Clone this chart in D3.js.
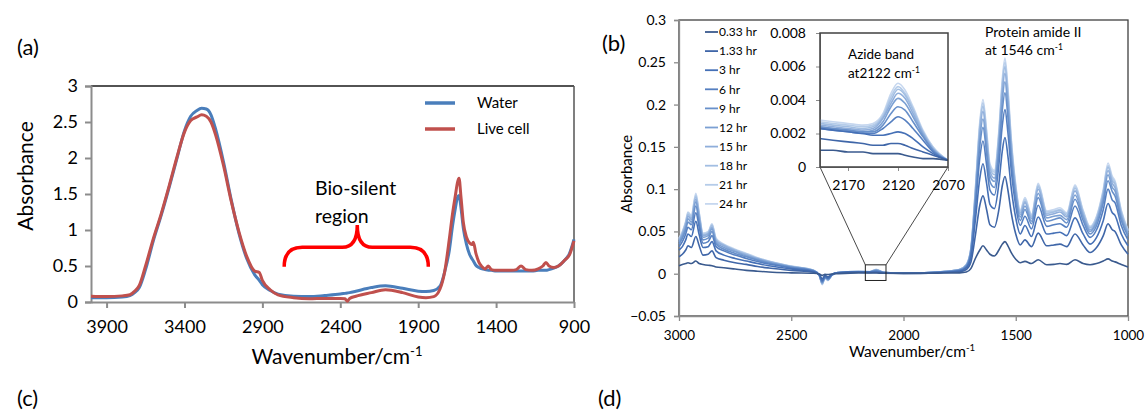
<!DOCTYPE html>
<html>
<head>
<meta charset="utf-8">
<script src="https://cdnjs.cloudflare.com/ajax/libs/d3/7.8.5/d3.min.js"></script>
<style>
  body { margin: 0; background: #fff; }
  svg text { font-family: Lato, "Open Sans", sans-serif; fill: #000; }
</style>
</head>
<body>
<div id="chart"></div>
<script>
/* ------------------------------ Data: panel (a) water vs live cell ------------------------------ */
var wnA = [4000, 3900, 3800, 3750, 3720, 3690, 3650, 3600, 3550, 3500,
           3450, 3400, 3360, 3320, 3290, 3260, 3230, 3200, 3150, 3100,
           3050, 3000, 2950, 2920, 2900, 2850, 2800, 2700, 2600, 2500,
           2400, 2370, 2355, 2340, 2300, 2200, 2110, 2000, 1900, 1850,
           1800, 1760, 1730, 1700, 1680, 1660, 1648, 1638, 1625, 1610,
           1590, 1570, 1555, 1546, 1530, 1510, 1490, 1470, 1450, 1430,
           1400, 1340, 1300, 1270, 1240, 1210, 1170, 1130, 1100, 1080,
           1060, 1030, 1000, 960, 930, 900];
var water = [0.06, 0.06, 0.07, 0.09, 0.13, 0.2, 0.45, 0.85, 1.2, 1.58,
             1.98, 2.38, 2.58, 2.66, 2.69, 2.68, 2.6, 2.4, 1.95, 1.42,
             0.95, 0.6, 0.38, 0.3, 0.24, 0.16, 0.11, 0.08, 0.075, 0.09,
             0.11, 0.12, 0.125, 0.13, 0.15, 0.2, 0.225, 0.19, 0.15, 0.145,
             0.16, 0.22, 0.42, 0.72, 1.05, 1.32, 1.45, 1.48, 1.3, 1.02,
             0.8, 0.66, 0.6, 0.57, 0.51, 0.48, 0.46, 0.45, 0.44, 0.44,
             0.43, 0.43, 0.43, 0.43, 0.43, 0.43, 0.43, 0.44, 0.44, 0.44,
             0.45, 0.47, 0.5, 0.58, 0.67, 0.87];
var liveCell = [0.08, 0.075, 0.085, 0.1, 0.15, 0.23, 0.5, 0.88, 1.22, 1.6,
                2.0, 2.36, 2.52, 2.57, 2.6, 2.58, 2.5, 2.32, 1.9, 1.4,
                0.97, 0.63, 0.43, 0.41, 0.3, 0.17, 0.1, 0.06, 0.045, 0.05,
                0.05, 0.045, 0.01, 0.05, 0.08, 0.13, 0.17, 0.13, 0.07, 0.06,
                0.075, 0.18, 0.42, 0.88, 1.22, 1.5, 1.66, 1.72, 1.45, 1.1,
                0.9, 0.82, 0.8, 0.83, 0.68, 0.55, 0.49, 0.46, 0.5, 0.45,
                0.44, 0.44, 0.44, 0.45, 0.5, 0.45, 0.44, 0.46, 0.5, 0.55,
                0.5, 0.48, 0.5, 0.58, 0.65, 0.85];
var legendA = ["Water", "Live cell"];
var xTicksA = [3900, 3400, 2900, 2400, 1900, 1400, 900];
var yTicksA = [0, 0.5, 1, 1.5, 2, 2.5, 3];

/* ------------------------------ Data: panel (b) time series ------------------------------ */
var timeLabels = ["0.33 hr", "1.33 hr", "3 hr", "6 hr", "9 hr", "12 hr", "15 hr", "18 hr", "21 hr", "24 hr"];
var wnB = [3000, 2985, 2970, 2960, 2945, 2925, 2910, 2893, 2870, 2853,
           2835, 2800, 2750, 2700, 2650, 2600, 2500, 2400, 2375, 2362,
           2350, 2336, 2320, 2300, 2200, 2150, 2122, 2090, 2000, 1850,
           1750, 1720, 1700, 1680, 1660, 1646, 1630, 1615, 1595, 1575,
           1560, 1548, 1535, 1520, 1500, 1480, 1459, 1430, 1400, 1362,
           1330, 1303, 1273, 1236, 1200, 1169, 1140, 1110, 1089, 1070,
           1058, 1030, 1000];
var hr033 = [.0095,.011,.012,.013,.012,.015,.012,.011,.010,.0095,
             .008,.007,.0055,.004,.003,.002,.001,.0005,-.0003,-.002,
             -.0008,-.001,-.0003,0,.001,.0009,.0008,.0006,.0004,.0007,
             .001,.002,.006,.018,.028,.033,.028,.023,.021,.028,
             .035,.038,.033,.025,.017,.013,.0146,.012,.0165,.0106,
             .011,.012,.011,.0165,.012,.0106,.012,.015,.0175,.015,
             .014,.011,.008];
var hr133 = [.020,.023,.028,.033,.031,.044,.033,.022,.023,.027,
             .019,.016,.013,.011,.0086,.0068,.004,.0018,-.0009,-.006,
             -.002,-.0036,-.0009,.0006,.0017,.0013,.0014,.0009,.0004,.001,
             .0023,.005,.0135,.045,.081,.092,.076,.058,.055,.076,
             .104,.115,.099,.072,.047,.034,.040,.032,.048,.033,
             .034,.035,.032,.047,.034,.025,.031,.045,.059,.052,
             .050,.034,.023];
var hr3 = [.028,.032,.040,.047,.044,.062,.046,.031,.032,.038,
           .027,.022,.018,.015,.012,.0095,.0057,.0025,-.0013,-.008,
           -.003,-.005,-.0013,.0008,.0023,.0019,.0021,.0012,.0005,.0013,
           .0032,.007,.019,.063,.113,.130,.107,.082,.077,.107,
           .145,.161,.139,.101,.066,.047,.057,.044,.067,.047,
           .048,.049,.045,.066,.047,.035,.043,.063,.083,.072,
           .069,.047,.033];
var hr6 = [.032,.038,.047,.055,.052,.072,.055,.036,.038,.045,
           .032,.027,.022,.018,.0144,.0114,.0068,.003,-.0015,-.009,
           -.004,-.006,-.0015,.001,.0023,.0021,.003,.0013,.0005,.0015,
           .0038,.008,.023,.076,.137,.157,.129,.099,.093,.129,
           .175,.194,.167,.122,.080,.057,.068,.053,.081,.056,
           .058,.059,.055,.080,.057,.043,.052,.076,.100,.087,
           .084,.057,.040];
var hr9 = [.035,.042,.052,.061,.058,.080,.060,.040,.042,.050,
           .035,.029,.024,.020,.016,.0126,.0076,.0034,-.002,-.010,
           -.004,-.006,-.002,.001,.0024,.0021,.0036,.0014,.0005,.0017,
           .0042,.009,.025,.084,.151,.173,.143,.109,.102,.143,
           .193,.214,.185,.134,.088,.063,.076,.059,.090,.062,
           .064,.066,.060,.088,.063,.047,.057,.084,.110,.097,
           .092,.063,.044];
var hr12 = [.037,.045,.055,.065,.061,.085,.064,.043,.045,.053,
            .037,.031,.026,.021,.017,.0134,.008,.0036,-.002,-.011,
            -.004,-.007,-.002,.001,.0024,.0022,.0041,.0015,.0005,.002,
            .0045,.010,.027,.089,.160,.183,.151,.116,.109,.151,
            .205,.227,.196,.142,.093,.067,.080,.062,.095,.066,
            .068,.069,.064,.093,.067,.050,.061,.089,.117,.102,
            .098,.067,.046];
var hr15 = [.039,.047,.058,.068,.064,.088,.067,.045,.047,.055,
            .039,.033,.027,.022,.018,.014,.0084,.0037,-.002,-.011,
            -.005,-.007,-.002,.001,.0025,.0022,.0044,.0016,.0005,.002,
            .005,.010,.028,.093,.167,.192,.158,.121,.113,.158,
            .214,.237,.205,.149,.098,.070,.084,.065,.100,.069,
            .071,.073,.067,.098,.070,.052,.063,.093,.122,.107,
            .102,.070,.048];
var hr18 = [.040,.048,.060,.070,.066,.091,.069,.046,.048,.057,
            .040,.034,.028,.023,.018,.0144,.0086,.0038,-.002,-.012,
            -.005,-.007,-.002,.001,.0026,.0023,.0046,.0017,.0005,.002,
            .005,.010,.029,.096,.173,.198,.163,.125,.117,.163,
            .221,.245,.211,.154,.101,.072,.086,.067,.103,.071,
            .073,.075,.069,.101,.072,.054,.065,.096,.126,.110,
            .106,.072,.050];
var hr21 = [.041,.049,.061,.072,.068,.093,.071,.047,.049,.058,
            .041,.034,.028,.0235,.0185,.0147,.0088,.0039,-.002,-.012,
            -.005,-.008,-.002,.001,.0027,.0024,.0048,.0017,.0005,.002,
            .005,.011,.029,.098,.176,.202,.167,.127,.120,.167,
            .225,.250,.216,.157,.103,.074,.088,.069,.105,.073,
            .074,.076,.071,.103,.074,.055,.067,.098,.128,.113,
            .108,.074,.051];
var hr24 = [.042,.050,.062,.073,.069,.095,.072,.048,.050,.059,
            .042,.035,.029,.024,.019,.015,.009,.004,-.002,-.013,
            -.005,-.008,-.002,.001,.0028,.0025,.005,.0018,.0005,.002,
            .005,.011,.030,.100,.180,.206,.170,.130,.122,.170,
            .230,.255,.220,.160,.105,.075,.090,.070,.107,.074,
            .076,.078,.072,.105,.075,.056,.068,.100,.131,.115,
            .110,.075,.052];
var xTicksB = [3000, 2500, 2000, 1500, 1000];
var yTicksB = [-0.05, 0, 0.05, 0.1, 0.15, 0.2, 0.25, 0.3];

// inset: azide band
var wnIn = [2198, 2185, 2170, 2155, 2145, 2135, 2127, 2120, 2113, 2105, 2095, 2085, 2070];
var in033 = [.0010,.0010,.0009,.0009,.0008,.0008,.0008,.0008,.0007,.0006,.0005,.0005,.0004];
var in133 = [.0017,.0016,.0015,.0014,.0013,.0013,.0014,.0014,.0013,.0011,.0009,.0007,.0004];
var in3   = [.0023,.0022,.0021,.0020,.0019,.0019,.0020,.0021,.0020,.0017,.0012,.0008,.0004];
var in6   = [.0023,.0022,.0021,.0020,.0020,.0023,.0027,.0030,.0028,.0023,.0016,.0009,.0004];
var in9   = [.0024,.0023,.0022,.0021,.0021,.0025,.0032,.0036,.0034,.0027,.0018,.0010,.0004];
var in12  = [.0024,.0023,.0022,.0021,.0022,.0027,.0036,.0041,.0038,.0030,.0019,.0010,.0004];
var in15  = [.0025,.0024,.0023,.0022,.0023,.0029,.0038,.0044,.0041,.0032,.0020,.0011,.0004];
var in18  = [.0026,.0025,.0024,.0023,.0024,.0030,.0040,.00464,.0043,.0034,.0021,.0011,.0004];
var in21  = [.0027,.0026,.0025,.0024,.0025,.0031,.0042,.0048,.0044,.0035,.0021,.0012,.0004];
var in24  = [.0028,.0027,.0026,.0025,.0026,.0032,.0044,.0050,.0046,.0036,.0022,.0012,.0004];
var xTicksIn = [2170, 2120, 2070];
var yTicksIn = [0, 0.002, 0.004, 0.006, 0.008];

var seriesB = [hr033, hr133, hr3, hr6, hr9, hr12, hr15, hr18, hr21, hr24];
var seriesIn = [in033, in133, in3, in6, in9, in12, in15, in18, in21, in24];
var blues = ["#3a5a8e", "#3f66a8", "#4570b6", "#557fc0", "#6890ca", "#7ba0d3", "#8faedb", "#a2bee2", "#b5cce9", "#c6d7ef"];

/* ------------------------------ SVG ------------------------------ */
var svg = d3.select("#chart").append("svg")
  .attr("width", 1148)
  .attr("height", 412);

var axisGrey = "#8c8c8c", frameGrey = "#404040";
var fmtInt = d3.format("d");

function supLabel(sel, size) {
  sel.append("tspan").text("Wavenumber/cm");
  sel.append("tspan").attr("dy", -size * 0.4).attr("font-size", size * 0.62).text("-1");
}

/* ------------------------------ Panel (a) ------------------------------ */
var xA = d3.scaleLinear().domain([4000, 900]).range([91, 574]);
var yA = d3.scaleLinear().domain([0, 3]).range([302, 86]);

var gA = svg.append("g");

// frame: top and right dark, left and bottom grey axes
gA.append("line").attr("x1", 91).attr("x2", 574).attr("y1", 86).attr("y2", 86).attr("stroke", "#1a1a1a").attr("stroke-width", 1.5);
gA.append("line").attr("x1", 574).attr("x2", 574).attr("y1", 86).attr("y2", 302).attr("stroke", "#555").attr("stroke-width", 1.5);

var yAxisA = d3.axisLeft(yA).tickValues(yTicksA).tickSize(6).tickPadding(7).tickFormat(d3.format("~g"));
gA.append("g").attr("transform", "translate(91,0)").call(yAxisA)
  .call(function(g) {
    g.selectAll("path,line").attr("stroke", axisGrey).attr("stroke-width", 2);
    g.selectAll("text").attr("font-size", 18).attr("font-family", "Lato");
  });
var xAxisA = d3.axisBottom(xA).tickValues(xTicksA).tickSize(6).tickPadding(12).tickSizeOuter(0).tickFormat(fmtInt);
gA.append("g").attr("transform", "translate(0,302)").call(xAxisA)
  .call(function(g) {
    g.selectAll("path,line").attr("stroke", axisGrey).attr("stroke-width", 2);
    g.selectAll("text").attr("font-size", 18).attr("font-family", "Lato");
  });

var lineA = d3.line().x(function(d) { return xA(d[0]); }).y(function(d) { return yA(d[1]); }).curve(d3.curveMonotoneX);
gA.append("path").datum(d3.zip(wnA, water)).attr("d", lineA)
  .attr("fill", "none").attr("stroke", "#4a7ebb").attr("stroke-width", 3);
gA.append("path").datum(d3.zip(wnA, liveCell)).attr("d", lineA)
  .attr("fill", "none").attr("stroke", "#c0504d").attr("stroke-width", 3);

// legend
var legA = gA.selectAll(".legA").data(legendA).enter().append("g")
  .attr("transform", function(d, i) { return "translate(425," + (103 + i * 26) + ")"; });
legA.append("line").attr("x1", 0).attr("x2", 30).attr("stroke-width", 3.5)
  .attr("stroke", function(d, i) { return i === 0 ? "#4a7ebb" : "#c0504d"; });
legA.append("text").attr("x", 52).attr("dy", "0.35em").attr("font-size", 15).text(function(d) { return d; });

// bio-silent brace
var bx0 = xA(2760), bx1 = xA(1835), bxm = xA(2291);
var byTip = yA(0.49), byBar = yA(0.76), byTop = yA(1.07);
var brace = d3.path();
brace.moveTo(bx0, byTip);
brace.quadraticCurveTo(bx0, byBar, bx0 + 18, byBar);
brace.lineTo(bxm - 15, byBar);
brace.quadraticCurveTo(bxm, byBar, bxm, byTop);
brace.quadraticCurveTo(bxm, byBar, bxm + 15, byBar);
brace.lineTo(bx1 - 18, byBar);
brace.quadraticCurveTo(bx1, byBar, bx1, byTip);
gA.append("path").attr("d", brace.toString()).attr("fill", "none").attr("stroke", "#ff0000").attr("stroke-width", 3.5);
gA.append("text").attr("x", 315).attr("y", 188).attr("dy", "0.35em").attr("font-size", 19.5).text("Bio-silent");
gA.append("text").attr("x", 315).attr("y", 216).attr("dy", "0.35em").attr("font-size", 19.5).text("region");

gA.append("text").attr("transform", "translate(26,176) rotate(-90)").attr("text-anchor", "middle")
  .attr("dy", "0.35em").attr("font-size", 21).text("Absorbance");
gA.append("text").attr("x", 337).attr("y", 364).attr("text-anchor", "middle").attr("font-size", 21).call(supLabel, 21);

/* ------------------------------ Panel (b) ------------------------------ */
var xB = d3.scaleLinear().domain([3000, 1000]).range([679, 1128]);
var yB = d3.scaleLinear().domain([-0.05, 0.3]).range([316, 20]);
var gB = svg.append("g");

gB.append("rect").attr("x", 679).attr("y", 20).attr("width", 449).attr("height", 296)
  .attr("fill", "none").attr("stroke", frameGrey).attr("stroke-width", 1.3);

var fmtB = function(d) { return d === 0 ? "0" : d3.format("~g")(+d.toFixed(2)); };
gB.append("g").attr("transform", "translate(679,0)")
  .call(d3.axisLeft(yB).tickValues(yTicksB).tickSize(5).tickPadding(8).tickFormat(fmtB))
  .call(function(g) {
    g.selectAll("path,line").attr("stroke", axisGrey).attr("stroke-width", 1.3);
    g.selectAll("text").attr("font-size", 14).attr("font-family", "Lato");
  });
gB.append("g").attr("transform", "translate(0,316)")
  .call(d3.axisBottom(xB).tickValues(xTicksB).tickSize(5).tickPadding(9).tickSizeOuter(0).tickFormat(fmtInt))
  .call(function(g) {
    g.selectAll("path,line").attr("stroke", axisGrey).attr("stroke-width", 1.3);
    g.selectAll("text").attr("font-size", 13.5).attr("font-family", "Lato");
  });

var lineB = d3.line().x(function(d) { return xB(d[0]); }).y(function(d) { return yB(d[1]); }).curve(d3.curveMonotoneX);
for (var i = seriesB.length - 1; i >= 0; i--) {
  gB.append("path").datum(d3.zip(wnB, seriesB[i])).attr("d", lineB)
    .attr("fill", "none").attr("stroke", blues[i]).attr("stroke-width", 1.6);
}

// legend
var legB = gB.selectAll(".legB").data(timeLabels).enter().append("g")
  .attr("transform", function(d, i) { return "translate(705," + (32 + i * 19.1) + ")"; });
legB.append("line").attr("x1", 0).attr("x2", 13).attr("stroke-width", 1.8)
  .attr("stroke", function(d, i) { return blues[i]; });
legB.append("text").attr("x", 14).attr("dy", "0.35em").attr("font-size", 12).attr("fill", "#222")
  .text(function(d) { return d; });

// inset
var xIn = d3.scaleLinear().domain([2198, 2070]).range([820, 948]);
var yIn = d3.scaleLinear().domain([0, 0.008]).range([167, 33]);

// zoom box and connectors
var zx0 = xB(2170), zx1 = xB(2078), zy0 = yB(0.0105), zy1 = yB(-0.008);
gB.append("rect").attr("x", zx0).attr("y", zy0).attr("width", zx1 - zx0).attr("height", zy1 - zy0)
  .attr("fill", "none").attr("stroke", "#222").attr("stroke-width", 1);
gB.append("line").attr("x1", zx0).attr("y1", zy0).attr("x2", xIn(2198)).attr("y2", yIn(0)).attr("stroke", "#333").attr("stroke-width", 0.9);
gB.append("line").attr("x1", zx1).attr("y1", zy0).attr("x2", xIn(2070)).attr("y2", yIn(0)).attr("stroke", "#333").attr("stroke-width", 0.9);

var gIn = gB.append("g");
gIn.append("rect").attr("x", 820).attr("y", 33).attr("width", 128).attr("height", 134).attr("fill", "#fff");
gIn.append("clipPath").attr("id", "clipIn").append("rect").attr("x", 820).attr("y", 33).attr("width", 128).attr("height", 134);
gIn.append("g").attr("transform", "translate(820,0)")
  .call(d3.axisLeft(yIn).tickValues(yTicksIn).tickSize(4).tickPadding(10)
    .tickFormat(function(d) { return d === 0 ? "0" : d.toFixed(3); }))
  .call(function(g) {
    g.selectAll("path,line").attr("stroke", axisGrey);
    g.selectAll("text").attr("font-size", 14).attr("font-family", "Lato");
  });
gIn.append("g").attr("transform", "translate(0,167)")
  .call(d3.axisBottom(xIn).tickValues(xTicksIn).tickSize(4).tickPadding(9).tickSizeOuter(0).tickFormat(fmtInt))
  .call(function(g) {
    g.selectAll("path,line").attr("stroke", axisGrey);
    g.selectAll("text").attr("font-size", 14).attr("font-family", "Lato");
  });
var lineIn = d3.line().x(function(d) { return xIn(d[0]); }).y(function(d) { return yIn(d[1]); }).curve(d3.curveMonotoneX);
var gInLines = gIn.append("g").attr("clip-path", "url(#clipIn)");
for (var j = seriesIn.length - 1; j >= 0; j--) {
  gInLines.append("path").datum(d3.zip(wnIn, seriesIn[j])).attr("d", lineIn)
    .attr("fill", "none").attr("stroke", blues[j]).attr("stroke-width", 1.6);
}
gIn.append("rect").attr("x", 820).attr("y", 33).attr("width", 128).attr("height", 134)
  .attr("fill", "none").attr("stroke", frameGrey).attr("stroke-width", 1.5);

gIn.append("text").attr("x", 848).attr("y", 54).attr("dy", "0.35em").attr("font-size", 13.5).text("Azide band");
var t2 = gIn.append("text").attr("x", 848).attr("y", 73).attr("dy", "0.35em").attr("font-size", 13.5);
t2.append("tspan").text("at2122 cm");
t2.append("tspan").attr("dy", -5).attr("font-size", 8.5).text("-1");

gB.append("text").attr("x", 985).attr("y", 32).attr("dy", "0.35em").attr("font-size", 14).text("Protein amide II");
var t3 = gB.append("text").attr("x", 985).attr("y", 50).attr("dy", "0.35em").attr("font-size", 14);
t3.append("tspan").text("at 1546 cm");
t3.append("tspan").attr("dy", -5).attr("font-size", 8.5).text("-1");

gB.append("text").attr("transform", "translate(627,174) rotate(-90)").attr("text-anchor", "middle")
  .attr("dy", "0.35em").attr("font-size", 15).text("Absorbance");
gB.append("text").attr("x", 912).attr("y", 357).attr("text-anchor", "middle").attr("font-size", 15.5).call(supLabel, 15.5);

/* ------------------------------ Panel letters ------------------------------ */
var letters = [["(a)", 17, 47], ["(b)", 602, 43], ["(c)", 17, 398], ["(d)", 598, 398]];
svg.selectAll(".letter").data(letters).enter().append("text")
  .attr("x", function(d) { return d[1]; }).attr("y", function(d) { return d[2]; })
  .attr("dy", "0.35em").attr("font-size", 22).text(function(d) { return d[0]; });
</script>
</body>
</html>
